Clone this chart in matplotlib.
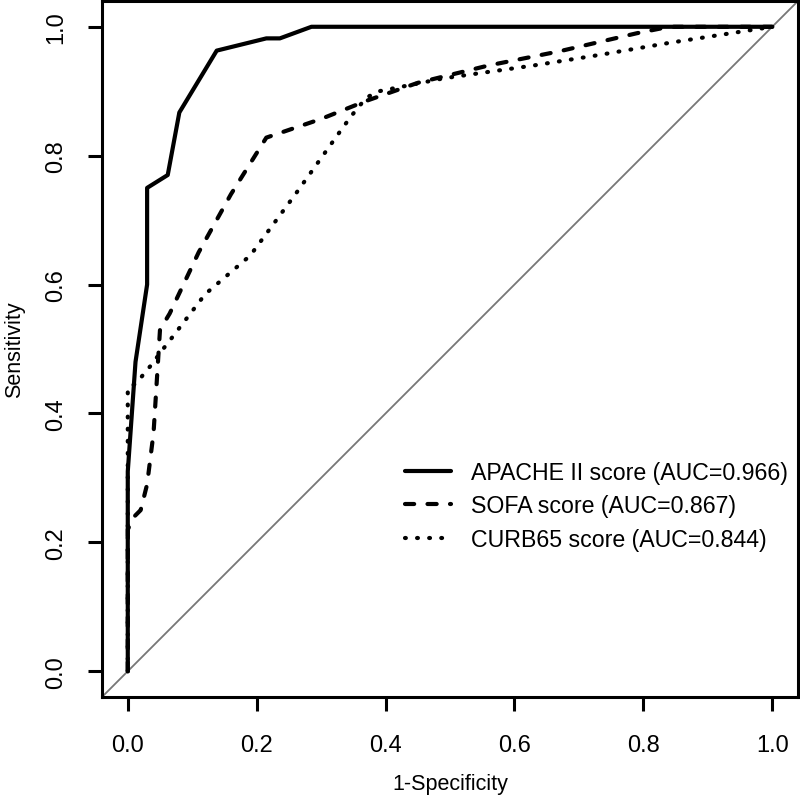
import matplotlib
matplotlib.use('Agg')
import matplotlib.pyplot as plt

plt.rcParams['font.family'] = ['Liberation Sans', 'DejaVu Sans']

# ROC curve points (1-specificity, sensitivity)
apache_fpr = [0, 0, 0.012, 0.03, 0.03, 0.062, 0.08, 0.138, 0.215, 0.236, 0.285, 1.0]
apache_tpr = [0, 0.31, 0.48, 0.60, 0.75, 0.77, 0.867, 0.963, 0.982, 0.982, 1.0, 1.0]

sofa_fpr = [0, 0, 0.01, 0.02, 0.03, 0.04, 0.045, 0.05, 0.065, 0.11, 0.16,
            0.215, 0.30, 0.37, 0.45, 0.56, 0.67, 0.79, 0.84, 1.0]
sofa_tpr = [0, 0.22, 0.24, 0.25, 0.29, 0.37, 0.45, 0.53, 0.555, 0.65, 0.74,
            0.828, 0.857, 0.885, 0.913, 0.94, 0.962, 0.99, 1.0, 1.0]

curb_fpr = [0, 0, 0.014, 0.026, 0.039, 0.05, 0.062, 0.12, 0.19, 0.26,
            0.334, 0.348, 0.37, 0.39, 0.49, 0.63, 0.73, 0.84, 1.0]
curb_tpr = [0, 0.44, 0.447, 0.463, 0.478, 0.494, 0.509, 0.585, 0.645, 0.74,
            0.844, 0.863, 0.89, 0.90, 0.92, 0.94, 0.956, 0.975, 1.0]

labels = ['APACHE II score (AUC=0.966)',
          'SOFA score (AUC=0.867)',
          'CURB65 score (AUC=0.844)']
ticks = [0.0, 0.2, 0.4, 0.6, 0.8, 1.0]

fig = plt.figure(figsize=(8, 8.04), dpi=100)
ax = fig.add_axes([102 / 800, 1 - 698 / 804, 696 / 800, 696 / 804])

ax.axline((0, 0), slope=1, color='#777777', lw=1.3, zorder=1)

ax.plot(apache_fpr, apache_tpr, color='black', lw=3, solid_capstyle='round',
        solid_joinstyle='round', label=labels[0], zorder=3)
ax.plot(sofa_fpr, sofa_tpr, color='black', lw=3, linestyle=(0, (2.2, 3.2)),
        dash_capstyle='round', dash_joinstyle='round', label=labels[1], zorder=3)
ax.plot(curb_fpr, curb_tpr, color='black', lw=3, linestyle=(0, (0.2, 2.7)),
        dash_capstyle='round', label=labels[2], zorder=3)

ax.set_xlim(-0.04, 1.04)
ax.set_ylim(-0.04, 1.04)
ax.set_xticks(ticks)
ax.set_yticks(ticks)
ax.set_xticklabels([f'{t:.1f}' for t in ticks])
ax.set_yticklabels([f'{t:.1f}' for t in ticks], rotation=90, va='center')
ax.tick_params(axis='both', length=10, width=2.2, labelsize=17, color='black')
ax.tick_params(axis='x', pad=17)
ax.tick_params(axis='y', pad=15)
for s in ax.spines.values():
    s.set_linewidth(2.2)

ax.set_xlabel('1-Specificity', fontsize=15.5, va='center')
ax.set_ylabel('Sensitivity', fontsize=15.5, va='center')
ax.xaxis.set_label_coords(0.5, -0.125)
ax.yaxis.set_label_coords(-0.126, 0.5)

ax.legend(loc='upper left', bbox_to_anchor=(405 / 800, 1 - 462 / 804),
          bbox_transform=fig.transFigure, frameon=False, fontsize=16.7,
          borderpad=0, borderaxespad=0, handlelength=2.0, handletextpad=0.85,
          labelspacing=0.45)

plt.savefig('out.png', dpi=100)
plt.close()
